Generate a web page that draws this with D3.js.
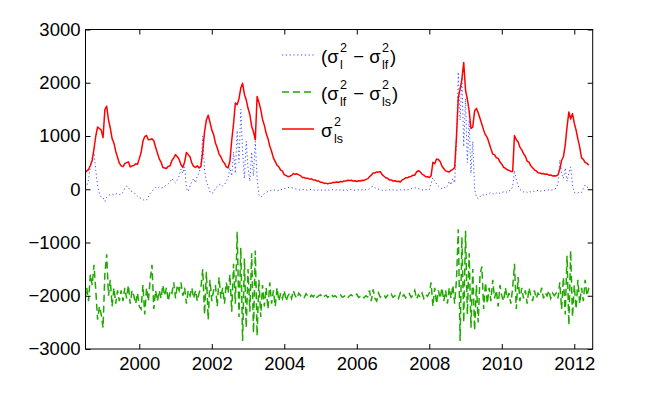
<!DOCTYPE html>
<html>
<head>
<meta charset="utf-8">
<script src="https://cdn.jsdelivr.net/npm/d3@7/dist/d3.min.js"></script>
<style>
  html, body { margin: 0; padding: 0; background: #fff; }
  svg { display: block; font-family: "Liberation Sans", Arial, Helvetica, sans-serif; }
</style>
</head>
<body>
<svg id="chart" width="654" height="393"></svg>
<script>
// Sampling of the series: every 0.05 year starting mid-1998
const sampleStart = 1998.5;
const sampleStep = 0.05;

const xTicks = [2000, 2002, 2004, 2006, 2008, 2010, 2012];
const yTicks = [-3000, -2000, -1000, 0, 1000, 2000, 3000];

// sigma^2_ls (red solid)
const sigmaLs = [
  310, 345, 370, 445, 540, 760, 1000, 1170, 1140, 1110, 970, 1490, 1560, 1300, 1150, 950, 870, 710, 600, 490,
  440, 425, 480, 500, 515, 420, 440, 445, 480, 470, 575, 690, 900, 990, 1010, 930, 935, 950, 910, 790,
  680, 570, 510, 410, 400, 390, 430, 440, 540, 590, 650, 610, 560, 460, 410, 510, 690, 650, 610, 490,
  430, 410, 440, 400, 430, 710, 1080, 1300, 1390, 1260, 1110, 1030, 870, 780, 660, 610, 530, 490, 420, 400,
  530, 920, 1230, 1620, 1590, 1700, 1900, 1990, 1780, 1680, 1520, 1400, 1180, 1080, 930, 1740, 1630, 1500, 1310, 1200,
  1050, 950, 810, 710, 590, 520, 450, 420, 360, 340, 270, 260, 235, 245, 260, 295, 280, 290, 270, 255,
  220, 220, 205, 205, 190, 195, 175, 175, 155, 155, 130, 130, 110, 115, 100, 115, 115, 130, 125, 135,
  130, 145, 140, 155, 155, 170, 165, 170, 155, 160, 145, 160, 155, 170, 165, 185, 195, 235, 265, 305,
  305, 325, 325, 330, 275, 245, 215, 205, 175, 175, 155, 160, 145, 150, 135, 175, 190, 215, 215, 235,
  240, 265, 265, 325, 350, 325, 285, 265, 235, 235, 220, 255, 505, 480, 570, 560, 520, 430, 390, 345,
  335, 325, 355, 375, 405, 990, 1720, 1880, 2070, 2380, 1860, 1690, 1470, 1140, 1170, 1470, 1520, 1430, 1330, 1220,
  1110, 1020, 970, 870, 760, 660, 650, 590, 580, 510, 470, 410, 395, 365, 355, 335, 335, 1010, 930, 890,
  790, 740, 670, 620, 530, 510, 440, 405, 365, 345, 310, 305, 290, 295, 280, 285, 265, 268, 250, 255,
  250, 270, 375, 540, 610, 830, 1170, 1450, 1320, 1420, 1240, 1110, 940, 790, 590, 560, 500, 490, 450
];

// (sigma^2_l - sigma^2_lf) (blue dotted)
const diffLLf = [
  30, 60, 180, 420, 600, 680, 350, 60, -80, -150, -160, -230, -150, -120, -100, -90, -110, -90, -80, -100,
  -90, -60, 20, 60, 40, -30, -40, -60, -100, -130, -160, -170, -190, -220, -200, -150, -80, -40, 0, 30,
  10, 40, 20, 30, 60, 80, 100, 140, 200, 150, 120, 180, 250, 380, 300, 420, 20, -40, 60, 150,
  200, 120, 250, 300, 450, 1000, 350, 150, 60, -50, -80, -60, 20, 50, 80, 100, 60, 90, 150, 220,
  400, 250, 700, 300, 1100, 500, 1500, 700, 200, 900, 400, 150, 700, 250, 900, 200, -100, -150, -120, -80,
  -60, -40, -30, -20, -10, -20, -30, -20, 0, -10, 10, 20, 30, 40, 30, 20, 10, 0, -10, -20,
  -10, 0, -10, -20, -10, 0, -10, -20, -20, -10, -20, -10, -10, -20, -10, -20, -10, -10, -20, -10,
  -20, -10, -10, -20, -10, -20, -10, 0, -10, -20, -10, -10, -20, -10, 0, -10, -10, 10, 40, 60,
  30, 10, 0, -10, -20, -10, -20, -10, -10, -20, -10, -20, -20, -10, -10, -20, -10, -20, -10, 0,
  10, 20, 30, 20, 10, 0, -10, -20, -10, 0, -10, 100, 220, 150, 100, 60, 30, 10, 40, 20,
  60, 150, 80, 200, 120, 900, 2200, 1300, 2100, 800, 1700, 500, 1300, 300, 900, 0, -150, -180, -140, -100,
  -110, -120, -90, -80, -60, -80, -100, -70, -60, -80, -60, -50, -40, -60, -30, -20, 50, 350, 180, 60,
  0, -30, -50, -40, -60, -40, -50, -30, -40, -30, -20, -40, -30, -20, -30, -20, -10, -20, -10, 0,
  20, 100, 550, 300, 200, 400, 150, 300, 420, 80, -60, -80, -70, -50, -60, 20, 80, 40, 30
];

// (sigma^2_lf - sigma^2_ls) (green dashed)
const diffLfLs = [
  -2050, -1850, -2100, -1600, -1800, -1420, -1900, -2450, -2200, -2350, -2600, -1600, -1220, -2000, -1700, -2200, -1850, -2150, -1900, -2100,
  -1900, -2100, -1850, -2050, -1800, -2150, -1900, -2000, -2150, -1950, -2200, -2250, -1800, -2350, -1850, -2100, -1700, -1420, -2250, -1900,
  -2100, -1900, -2050, -1800, -2000, -1850, -2100, -1900, -1950, -1750, -2050, -1800, -1900, -1750, -2000, -1850, -2150, -1900, -2000, -1850,
  -2050, -1900, -2100, -1950, -1850, -1500, -2350, -1550, -2450, -1700, -2100, -1900, -1800, -2200, -1650, -2050, -1850, -2150, -1750, -1950,
  -1600, -2300, -1400, -2150, -800, -2400, -1100, -2850, -1300, -2600, -1500, -2300, -1200, -2700, -1150, -2750, -1700, -2400, -1800, -2200,
  -1850, -2250, -1750, -2150, -1900, -2200, -1850, -2100, -1950, -2050, -1900, -2100, -2000, -1950, -2050, -1900, -2000, -2050, -1950, -2000,
  -1980, -2030, -1960, -2010, -2040, -1990, -2020, -1970, -2030, -2000, -1980, -2040, -2010, -1990, -2030, -2000, -1970, -2020, -2000, -2030,
  -2000, -1980, -2030, -2010, -1990, -2040, -2000, -1980, -2020, -2000, -1970, -2030, -2010, -1990, -2040, -2000, -2020, -1900, -2100, -1880,
  -2050, -2100, -1950, -2030, -2000, -1980, -2040, -1990, -2010, -1970, -2030, -2000, -1990, -2050, -1950, -2020, -1980, -2040, -2000, -1960,
  -2030, -1990, -1900, -2060, -1980, -2030, -1950, -2050, -1980, -2010, -1950, -1750, -2200, -1850, -2150, -1900, -2050, -1850, -2100, -1900,
  -2150, -1850, -2050, -1800, -2150, -1700, -750, -2850, -900, -2500, -780, -2350, -1200, -2600, -1500, -2650, -1800, -2500, -1600, -1450,
  -2250, -1750, -2150, -1850, -2100, -1700, -2050, -1900, -2200, -1800, -2000, -2100, -1850, -2050, -1950, -2150, -1850, -1400, -2250, -1650,
  -2100, -1850, -2050, -1900, -2150, -1850, -2000, -2100, -1900, -2050, -1950, -2000, -1850, -2050, -1950, -2000, -1900, -2050, -1950, -2000,
  -1950, -2050, -1750, -2250, -1650, -2350, -1250, -2550, -1150, -2400, -1800, -2250, -1700, -2150, -1850, -2100, -1700, -2000, -1850
];

const svg = d3.select("#chart");
const L = 85.5, R = 592.7, T = 29.5, B = 349;
const x = d3.scaleLinear().domain([1998.516, 2012.508]).range([L, R]);
const y = d3.scaleLinear().domain([-3000, 3000]).range([B, T]);

const fontSize = 18.5;

// clip
svg.append("clipPath").attr("id", "clip").append("rect")
  .attr("x", L).attr("y", T).attr("width", R - L).attr("height", B - T);

const yearOf = i => sampleStart + i * sampleStep;
const line = d3.line().x((d, i) => x(yearOf(i))).y(d => y(d));

const plot = svg.append("g").attr("clip-path", "url(#clip)");
plot.append("path").datum(diffLLf).attr("d", line)
  .attr("fill", "none").attr("stroke", "#3d4dff").attr("stroke-width", 1)
  .attr("stroke-dasharray", "1.2,2.6");
plot.append("path").datum(diffLfLs).attr("d", line)
  .attr("fill", "none").attr("stroke", "#1fa800").attr("stroke-width", 1.5)
  .attr("stroke-dasharray", "7,4");
plot.append("path").datum(sigmaLs).attr("d", line)
  .attr("fill", "none").attr("stroke", "#ff0000").attr("stroke-width", 1.5)
  .attr("stroke-linejoin", "round");

// axes
const fmtY = d => (d < 0 ? "\u2212" + Math.abs(d) : String(d));
const ax = (g) => {
  g.select(".domain").remove();
  g.selectAll("line").attr("stroke", "#000");
  g.selectAll("text").attr("fill", "#000").style("font-size", fontSize + "px");
};
svg.append("g").attr("transform", `translate(0,${B})`)
  .call(d3.axisBottom(x).tickValues(xTicks).tickFormat(d3.format("d")).tickSize(-5).tickPadding(8))
  .call(ax);
svg.append("g").attr("transform", `translate(0,${T})`)
  .call(d3.axisTop(x).tickValues(xTicks).tickFormat("").tickSize(-5))
  .call(ax);
svg.append("g").attr("transform", `translate(${L},0)`)
  .call(d3.axisLeft(y).tickValues(yTicks).tickFormat(fmtY).tickSize(-5).tickPadding(5))
  .call(ax);
svg.append("g").attr("transform", `translate(${R},0)`)
  .call(d3.axisRight(y).tickValues(yTicks).tickFormat("").tickSize(-5))
  .call(ax);
svg.append("rect").attr("x", L).attr("y", T).attr("width", R - L).attr("height", B - T)
  .attr("fill", "none").attr("stroke", "#000").attr("stroke-width", 1);

// legend
const legendItems = [
  { stroke: "#3d4dff", dash: "1.2,2.6", width: 1,
    parts: [{ t: "(" }, { t: "σ", sup: "2", sub: "l" }, { t: " \u2212 " }, { t: "σ", sup: "2", sub: "lf" }, { t: ")" }] },
  { stroke: "#1fa800", dash: "7,4", width: 1.5,
    parts: [{ t: "(" }, { t: "σ", sup: "2", sub: "lf" }, { t: " \u2212 " }, { t: "σ", sup: "2", sub: "ls" }, { t: ")" }] },
  { stroke: "#ff0000", dash: null, width: 1.5,
    parts: [{ t: "σ", sup: "2", sub: "ls" }] }
];
const legendY = [55, 92, 129];
const lg = svg.append("g");
legendItems.forEach((it, k) => {
  const ly = legendY[k];
  const ln = lg.append("line").attr("x1", 282).attr("x2", 314).attr("y1", ly).attr("y2", ly)
    .attr("stroke", it.stroke).attr("stroke-width", it.width);
  if (it.dash) ln.attr("stroke-dasharray", it.dash);
  let cx = 321;
  const base = ly + 8;
  it.parts.forEach(p => {
    const t = lg.append("text").attr("x", cx).attr("y", base)
      .style("font-size", fontSize + "px").attr("fill", "#000")
      .style("white-space", "pre").attr("xml:space", "preserve").text(p.t);
    cx += t.node().getComputedTextLength();
    if (p.sup) {
      const sx = cx + 1.5;
      const s1 = lg.append("text").attr("x", sx).attr("y", base - 11)
        .style("font-size", "12.5px").attr("fill", "#000").text(p.sup);
      const s2 = lg.append("text").attr("x", sx).attr("y", base + 6)
        .style("font-size", "12.5px").attr("fill", "#000").text(p.sub);
      cx = sx + Math.max(s1.node().getComputedTextLength(), s2.node().getComputedTextLength()) + 1;
    }
  });
});
</script>
</body>
</html>
